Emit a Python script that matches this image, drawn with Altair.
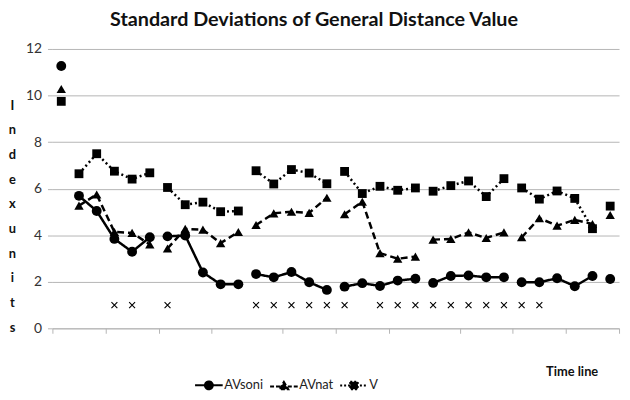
import altair as alt
import pandas as pd

# ---- data ----
categories = list(range(1, 33))
groups = [0] + [1]*5 + [2]*5 + [3]*5 + [4]*5 + [5]*5 + [6]*5 + [7]
avsoni = [11.27, 5.69, 5.04, 3.84, 3.29, 3.91, 3.95, 3.99, 2.40, 1.89, 1.89,
          2.33, 2.19, 2.42, 1.98, 1.65, 1.79, 1.94, 1.82, 2.05, 2.13,
          1.95, 2.25, 2.27, 2.19, 2.19, 1.98, 1.98, 2.15, 1.81, 2.25, 2.12]
avnat = [10.28, 5.27, 5.75, 4.14, 4.10, 3.60, 3.43, 4.27, 4.24, 3.66, 4.14,
         4.44, 4.94, 5.01, 4.96, 5.61, 4.90, 5.44, 3.23, 2.99, 3.08,
         3.81, 3.84, 4.12, 3.88, 4.12, 3.91, 4.73, 4.41, 4.66, 4.48, 4.87]
v_vals = [9.75, 6.64, 7.50, 6.75, 6.41, 6.68, 6.05, 5.31, 5.42, 5.01, 5.04,
          6.77, 6.20, 6.82, 6.67, 6.21, 6.74, 5.79, 6.10, 5.93, 6.03,
          5.89, 6.13, 6.33, 5.66, 6.43, 6.03, 5.55, 5.90, 5.58, 4.28, 5.25]
series_names = ["AVsoni", "AVnat", "V"]
cross_cats = [4, 5, 7, 12, 13, 14, 15, 16, 17, 19, 20, 21, 22, 23, 24, 25, 26, 27, 28]
cross_value = [1.0] * len(cross_cats)
label_cats = [1, 4, 9, 14, 19, 24, 29, 32]
label_texts = ["pre", "ts1", "ts2", "ts3", "ts4", "ts5", "ts6", "r"]

rows = []
for name, vals in zip(series_names, [avsoni, avnat, v_vals]):
    for c, g, val in zip(categories, groups, vals):
        rows.append({"cat": c, "grp": g, "series": name, "value": val})
df = pd.DataFrame(rows)
df_cross = pd.DataFrame({"cat": cross_cats, "value": cross_value})
df_leg = pd.DataFrame({"series": series_names, "cat": [16, 16, 16], "value": [6, 6, 6]})

FONT = "Lato"
GRID = "#b5b5b5"

label_expr = "".join(f"datum.value == {c} ? '{t}' : " for c, t in zip(label_cats, label_texts)) + "''"
tick_values = [c - 0.5 for c in categories] + [categories[-1] + 0.5] + label_cats

x_enc = alt.X(
    "cat:Q",
    scale=alt.Scale(domain=[0.5, 32.5], nice=False, zero=False),
    axis=alt.Axis(
        values=tick_values, labelExpr=label_expr, grid=False,
        domainColor=GRID, tickColor=GRID, tickSize=5,
        tickOpacity={"condition": {"test": "datum.value % 1 != 0", "value": 1}, "value": 0},
        labelOverlap=False, labelFlush=False, labelPadding=8,
        labelFont=FONT, labelFontSize=13, labelColor="#222",
        title="Time line", titleFont=FONT, titleFontSize=13, titleFontWeight="bold",
        titleX=526, titleY=44, titleAlign="center", titleBaseline="middle", titleColor="#111",
    ),
)
y_enc = alt.Y(
    "value:Q",
    scale=alt.Scale(domain=[0, 12], nice=False),
    axis=alt.Axis(
        values=[0, 2, 4, 6, 8, 10, 12], domain=False, gridColor=GRID, tickColor=GRID,
        tickSize=5, labelPadding=6, labelFont=FONT, labelFontSize=14, labelColor="#333",
        title=["I", "n", "d", "e", "x", " ", "u", "n", "i", "t", "s"],
        titleAngle=0, titleX=-41, titleY=51, titleAlign="center", titleBaseline="top",
        titleLineHeight=25, titleFont=FONT, titleFontSize=13, titleFontWeight="bold",
        titleColor="#111",
    ),
)

dash_scale = alt.Scale(domain=series_names, range=[[1, 0], [7, 4], [2, 3]])

lines = alt.Chart(df).mark_line(color="black", strokeWidth=2.5).encode(
    x=x_enc, y=y_enc, detail="grp:N",
    strokeDash=alt.StrokeDash("series:N", scale=dash_scale, legend=None),
)
points = alt.Chart(df).mark_point(filled=True, color="black", opacity=1).encode(
    x="cat:Q", y="value:Q",
    shape=alt.Shape("series:N", scale=alt.Scale(domain=series_names,
                    range=["circle", "triangle-up", "square"]), legend=None),
    size=alt.Size("series:N", scale=alt.Scale(domain=series_names, range=[100, 80, 70]), legend=None),
)
crosses = alt.Chart(df_cross).mark_point(
    shape="M-1,-1L1,1M1,-1L-1,1", filled=False, color="black", strokeWidth=1.1, size=36, opacity=1
).encode(x="cat:Q", y="value:Q")

leg_paths = [
    "M-3.5,0L3.5,0M1,0A1,1,0,1,1,-1,0A1,1,0,1,1,1,0Z",
    "M-3.5,0.25L3.5,0.25M0,-0.9L1.1,0.95L-1.1,0.95Z",
    "M-3.5,0L3.5,0M-0.95,-0.95L0.95,-0.95L0.95,0.95L-0.95,0.95Z",
]
legend_layer = alt.Chart(df_leg).mark_point(filled=True, color="black", stroke="black",
                                            strokeWidth=2, opacity=0, size=64).encode(
    x="cat:Q", y="value:Q",
    shape=alt.Shape("series:N", scale=alt.Scale(domain=series_names, range=leg_paths),
                    legend=alt.Legend(title=None, orient="none", direction="horizontal",
                                      legendX=152, legendY=334, symbolSize=64,
                                      symbolOpacity=1, symbolStrokeWidth=2,
                                      labelOffset=9, columnPadding=2, padding=0,
                                      labelFont=FONT, labelFontSize=13, labelColor="#222")),
    strokeDash=alt.StrokeDash("series:N", scale=alt.Scale(domain=series_names,
                              range=[[1, 0], [4, 2], [2, 2]])),
)

chart = alt.layer(lines, points, crosses, legend_layer).resolve_scale(
    shape="independent", strokeDash="independent", size="independent"
).properties(
    width=574, height=283,
    autosize=alt.AutoSizeParams(type="none"),
    padding={"left": 45, "top": 39, "right": 3, "bottom": 62},
    title=alt.Title("Standard Deviations of General Distance Value", font=FONT, fontSize=20,
                    fontWeight="bold", color="#111", anchor="middle", dx=-22, offset=12),
).configure_view(stroke=None)

chart.save("out.html", embed_options={"renderer": "svg", "actions": False})
